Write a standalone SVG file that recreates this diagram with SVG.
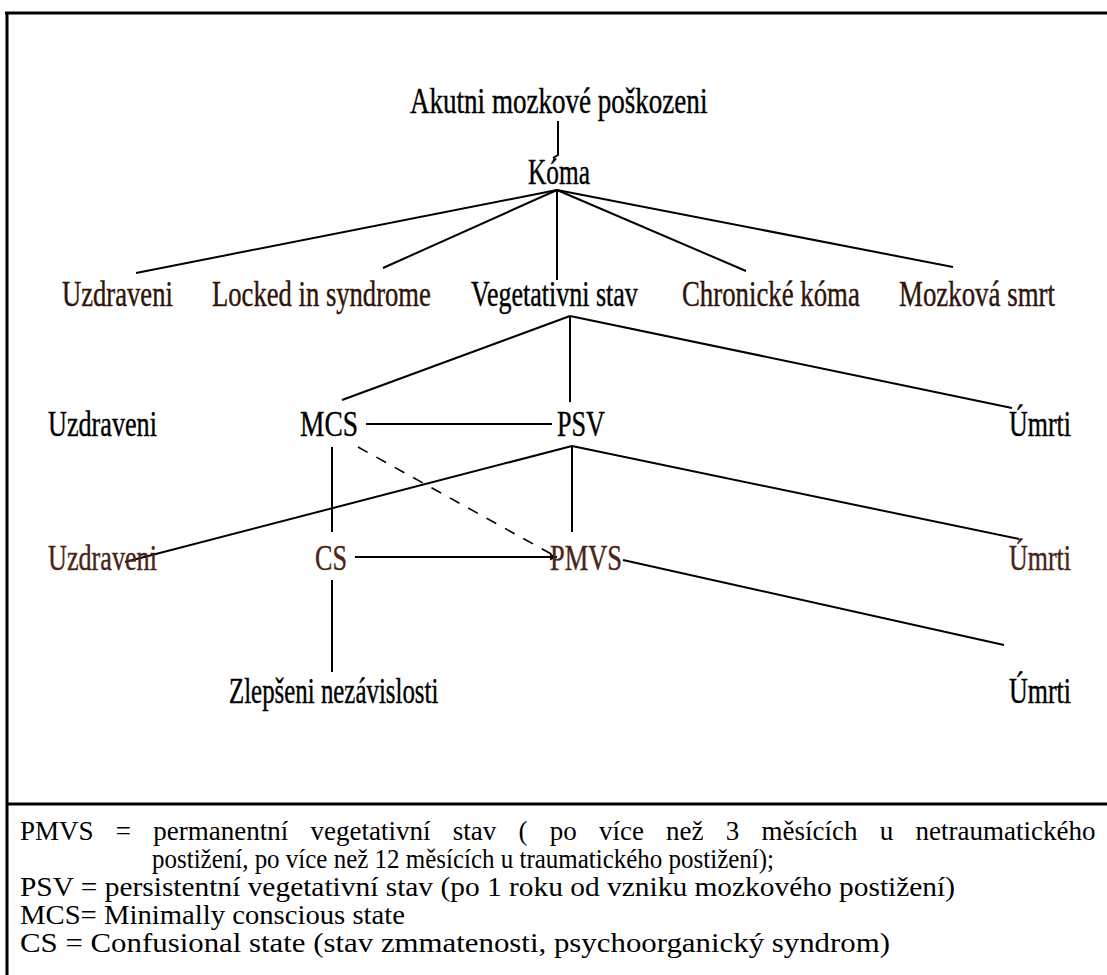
<svg xmlns="http://www.w3.org/2000/svg" width="1107" height="975" viewBox="0 0 1107 975">
  <style>
    .lbl { font-family: "Liberation Serif", "Times New Roman", serif; font-size: 35px; fill: #000; stroke: #000; stroke-width: 0.4; }
    .br1 { fill: #2e1409; stroke: #2e1409; }
    .br3 { fill: #4a2416; stroke: #4a2416; }
    .leg { font-family: "Liberation Serif", "Times New Roman", serif; font-size: 27px; fill: #000; }
    .ln { stroke: #000; stroke-width: 2; fill: none; }
    .dash { stroke: #000; stroke-width: 1.6; fill: none; stroke-dasharray: 11 10; }
    .frame { stroke: #000; stroke-width: 3; fill: none; }
  </style>
  <defs>
    <marker id="arr" viewBox="0 0 10 10" refX="10" refY="5" markerWidth="7" markerHeight="7" orient="auto" markerUnits="userSpaceOnUse">
      <path d="M0,0 L10,5 L0,10 z" fill="#000"/>
    </marker>
  </defs>
  <rect x="0" y="0" width="1107" height="975" fill="#fff"/>

  <g id="frame">
    <line class="frame" x1="5" y1="13" x2="1107" y2="13"/>
    <line class="frame" x1="7" y1="12" x2="7" y2="975"/>
    <line class="frame" x1="7" y1="804" x2="1107" y2="804"/>
  </g>

  <g id="connectors">
    <polyline class="ln" points="558,121 558,155 553,158"/>
    <line class="ln" x1="557" y1="190" x2="136" y2="273"/>
    <line class="ln" x1="557" y1="190" x2="383" y2="268"/>
    <line class="ln" x1="557" y1="190" x2="557" y2="280"/>
    <line class="ln" x1="557" y1="190" x2="746" y2="271"/>
    <line class="ln" x1="557" y1="190" x2="953" y2="267"/>
    <line class="ln" x1="570" y1="316" x2="342" y2="400"/>
    <line class="ln" x1="570" y1="316" x2="570" y2="402"/>
    <line class="ln" x1="570" y1="316" x2="1012" y2="408"/>
    <line class="ln" x1="366" y1="424" x2="552" y2="424"/>
    <line class="ln" x1="572" y1="446" x2="572" y2="532"/>
    <line class="ln" x1="572" y1="446" x2="125" y2="562"/>
    <line class="ln" x1="572" y1="446" x2="1019" y2="539"/>
    <line class="ln" x1="332" y1="447" x2="332" y2="532"/>
    <line class="dash" x1="358" y1="447" x2="553" y2="555"/>
    <line class="ln" x1="355" y1="557" x2="557" y2="557" marker-end="url(#arr)"/>
    <line class="ln" x1="623" y1="560" x2="1004" y2="645"/>
    <line class="ln" x1="332" y1="580" x2="332" y2="672"/>
  </g>

  <g id="n-akutni"><text class="lbl" transform="translate(410,113) scale(0.773,1)">Akutni mozkové poškozeni</text></g>
  <g id="n-koma"><text class="lbl" transform="translate(528,184) scale(0.725,1)">Kóma</text></g>

  <g id="n-uzdraveni1"><text class="lbl br1" transform="translate(62,306) scale(0.761,1)">Uzdraveni</text></g>
  <g id="n-locked"><text class="lbl br1" transform="translate(212,306) scale(0.761,1)">Locked in syndrome</text></g>
  <g id="n-vegetativni"><text class="lbl" transform="translate(471,306) scale(0.743,1)">Vegetativni stav</text></g>
  <g id="n-chronicke"><text class="lbl br1" transform="translate(682,306) scale(0.766,1)">Chronické kóma</text></g>
  <g id="n-mozkova"><text class="lbl br1" transform="translate(899,306) scale(0.768,1)">Mozková smrt</text></g>

  <g id="n-uzdraveni2"><text class="lbl" transform="translate(48,436) scale(0.748,1)">Uzdraveni</text></g>
  <g id="n-mcs"><text class="lbl" transform="translate(300,436) scale(0.785,1)">MCS</text></g>
  <g id="n-psv"><text class="lbl" transform="translate(557,436) scale(0.748,1)">PSV</text></g>
  <g id="n-umrti2"><text class="lbl" transform="translate(1009,436) scale(0.742,1)">Úmrti</text></g>

  <g id="n-uzdraveni3"><text class="lbl br3" transform="translate(48,570) scale(0.748,1)">Uzdraveni</text></g>
  <g id="n-cs"><text class="lbl br3" transform="translate(315,570) scale(0.748,1)">CS</text></g>
  <g id="n-pmvs"><text class="lbl br3" transform="translate(550,570) scale(0.755,1)">PMVS</text></g>
  <g id="n-umrti3"><text class="lbl br3" transform="translate(1009,570) scale(0.742,1)">Úmrti</text></g>

  <g id="n-zlepseni"><text class="lbl" transform="translate(229,703) scale(0.711,1)">Zlepšeni nezávislosti</text></g>
  <g id="n-umrti4"><text class="lbl" transform="translate(1009,703) scale(0.742,1)">Úmrti</text></g>

  <g id="legend">
    <text class="leg" x="20" y="840" word-spacing="15.5">PMVS = permanentní vegetativní stav ( po více než 3 měsících u netraumatického</text>
    <text class="leg" x="152" y="868" textLength="622" lengthAdjust="spacingAndGlyphs">postižení, po více než 12 měsících u traumatického postižení);</text>
    <text class="leg" x="20" y="896" textLength="935" lengthAdjust="spacingAndGlyphs">PSV = persistentní vegetativní stav (po 1 roku od vzniku mozkového postižení)</text>
    <text class="leg" x="20" y="924" textLength="385" lengthAdjust="spacingAndGlyphs">MCS= Minimally conscious state</text>
    <text class="leg" x="20" y="952" textLength="870" lengthAdjust="spacingAndGlyphs">CS = Confusional state (stav zmmatenosti, psychoorganický syndrom)</text>
  </g>
</svg>
